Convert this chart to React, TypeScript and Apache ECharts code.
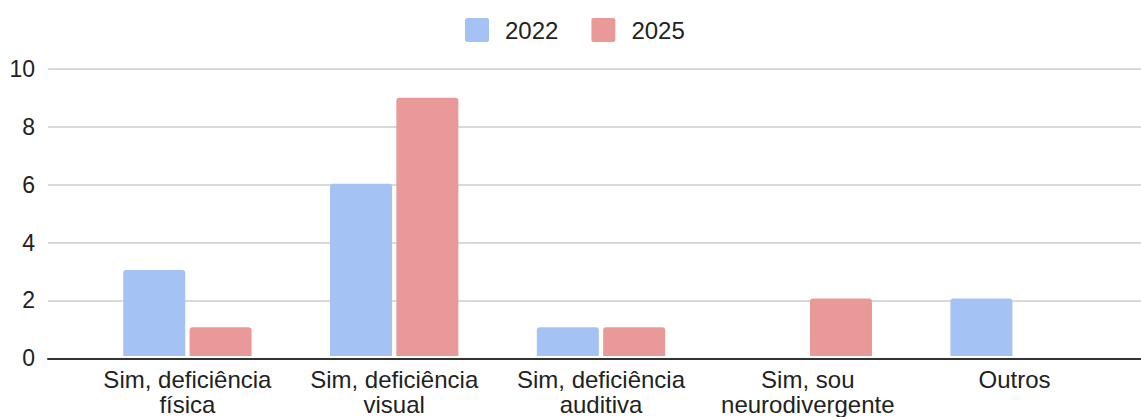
import React, { useEffect, useRef } from "react";
import * as echarts from "echarts";

const categories = [
  "Sim, deficiência\nfísica",
  "Sim, deficiência\nvisual",
  "Sim, deficiência\nauditiva",
  "Sim, sou\nneurodivergente",
  "Outros",
];
const seriesNames = ["2022", "2025"];
const values2022 = [3, 6, 1, 0, 2];
const values2025 = [1, 9, 1, 2, 0];
const yTicks = { min: 0, max: 10, interval: 2 };

const FONT = "Arial";
const TOP = 69;
const BOTTOM = 58.7;

export default function App() {
  const ref = useRef<HTMLDivElement>(null);
  useEffect(() => {
    if (!ref.current) return;
    const chart = echarts.init(ref.current, undefined, { renderer: "svg" });
    chart.setOption({
      animation: false,
      backgroundColor: "#ffffff",
      textStyle: { fontFamily: FONT },
      legend: {
        data: seriesNames,
        left: 465,
        top: 18,
        padding: 0,
        itemWidth: 24,
        itemHeight: 24,
        itemGap: 33,
        icon: "path://M2,0 L22,0 Q24,0 24,2 L24,22 Q24,24 22,24 L2,24 Q0,24 0,22 L0,2 Q0,0 2,0 Z",
        textStyle: { fontSize: 24, color: "#222222", fontFamily: FONT, padding: [0, 0, 0, 11] },
      },
      grid: [
        { left: 48, right: 0, top: TOP, bottom: BOTTOM, containLabel: false },
        { left: 84, right: 23, top: TOP, bottom: BOTTOM, containLabel: false },
      ],
      xAxis: [
        {
          type: "category",
          gridIndex: 0,
          data: categories,
          axisLabel: { show: false },
          axisTick: { show: false },
          axisLine: { show: true, lineStyle: { color: "#333333", width: 2 } },
          splitLine: { show: false },
        },
        {
          type: "category",
          gridIndex: 1,
          data: categories,
          axisLine: { show: false },
          axisTick: { show: false },
          axisLabel: {
            fontSize: 24,
            lineHeight: 25,
            color: "#222222",
            fontFamily: FONT,
            margin: 11,
            interval: 0,
          },
        },
      ],
      yAxis: [
        {
          type: "value",
          gridIndex: 0,
          min: yTicks.min,
          max: yTicks.max,
          interval: yTicks.interval,
          axisLine: { show: false },
          axisTick: { show: false },
          axisLabel: { fontSize: 23, color: "#222222", fontFamily: FONT, margin: 13 },
          splitLine: { show: true, lineStyle: { color: "#cccccc", width: 1.5 } },
        },
        {
          type: "value",
          gridIndex: 1,
          min: yTicks.min,
          max: yTicks.max,
          interval: yTicks.interval,
          show: false,
          splitLine: { show: false },
        },
      ],
      series: [
        {
          name: seriesNames[0],
          type: "bar",
          xAxisIndex: 1,
          yAxisIndex: 1,
          data: values2022,
          barWidth: 62,
          barGap: "7%",
          itemStyle: { color: "#a4c2f4", borderRadius: [3, 3, 0, 0] },
        },
        {
          name: seriesNames[1],
          type: "bar",
          xAxisIndex: 1,
          yAxisIndex: 1,
          data: values2025,
          barWidth: 62,
          barGap: "7%",
          itemStyle: { color: "#ea9999", borderRadius: [3, 3, 0, 0] },
        },
      ],
    });
    return () => chart.dispose();
  }, []);
  return (
    <div
      ref={ref}
      style={{ position: "fixed", left: 0, top: 0, width: 1141, height: 417 }}
    />
  );
}
